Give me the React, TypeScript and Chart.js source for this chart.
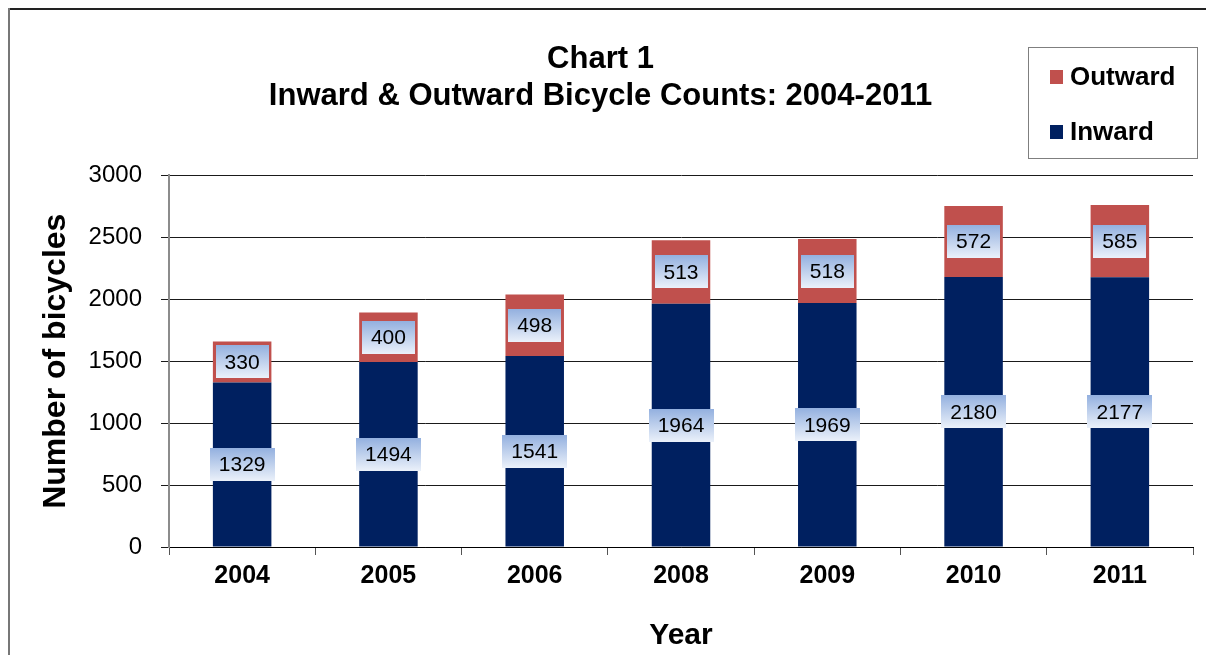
import React, { useEffect, useRef } from "react";
import { Chart, registerables } from "chart.js";

Chart.register(...registerables);

const categories = ["2004", "2005", "2006", "2008", "2009", "2010", "2011"];
const inward = [1329, 1494, 1541, 1964, 1969, 2180, 2177];
const outward = [330, 400, 498, 513, 518, 572, 585];
const yTicks = [0, 500, 1000, 1500, 2000, 2500, 3000];
const titleLines = ["Chart 1", "Inward & Outward Bicycle Counts: 2004-2011"];

const FONT = 'Arial, "Liberation Sans", sans-serif';
const W = 1206;
const H = 647;

const framePlugin = {
  id: "frame",
  beforeDraw(chart: any) {
    const { ctx } = chart;
    ctx.save();
    ctx.fillStyle = "#ffffff";
    ctx.fillRect(0, 0, chart.width, chart.height);
    ctx.lineWidth = 2;
    ctx.strokeStyle = "#222222";
    ctx.beginPath();
    ctx.moveTo(0, 1);
    ctx.lineTo(chart.width, 1);
    ctx.stroke();
    ctx.strokeStyle = "#777777";
    ctx.beginPath();
    ctx.moveTo(1, 0);
    ctx.lineTo(1, chart.height);
    ctx.stroke();
    ctx.restore();
  },
};

const labelPlugin = {
  id: "boxLabels",
  afterDatasetsDraw(chart: any) {
    const { ctx } = chart;
    ctx.save();
    ctx.font = `21px ${FONT}`;
    ctx.textAlign = "center";
    ctx.textBaseline = "middle";
    chart.data.datasets.forEach((ds: any, di: number) => {
      const meta = chart.getDatasetMeta(di);
      meta.data.forEach((el: any, i: number) => {
        const { x, y, base } = el.getProps(["x", "y", "base"], true);
        const cy = (y + base) / 2;
        const text = String(ds.data[i]);
        const tw = ctx.measureText(text).width;
        const bw = Math.round(tw + 18);
        const bh = 33;
        const bx = Math.round(x - bw / 2);
        const by = Math.round(cy - bh / 2);
        const g = ctx.createLinearGradient(0, by, 0, by + bh);
        g.addColorStop(0, "#93b0df");
        g.addColorStop(1, "#ebf1fa");
        ctx.fillStyle = g;
        ctx.fillRect(bx, by, bw, bh);
        ctx.fillStyle = "#000000";
        ctx.fillText(text, x, cy + 1);
      });
    });
    ctx.restore();
  },
};

const legendPlugin = {
  id: "boxLegend",
  afterDraw(chart: any) {
    const { ctx } = chart;
    ctx.save();
    ctx.strokeStyle = "#7f7f7f";
    ctx.lineWidth = 1;
    ctx.strokeRect(1020.5, 39.5, 169, 111);
    const items = chart.data.datasets.slice().reverse();
    ctx.font = `bold 26px ${FONT}`;
    ctx.textAlign = "left";
    ctx.textBaseline = "middle";
    items.forEach((ds: any, i: number) => {
      const cy = 69 + i * 55;
      ctx.fillStyle = ds.backgroundColor;
      ctx.fillRect(1042, cy - 7, 13, 14);
      ctx.fillStyle = "#000000";
      ctx.fillText(ds.label, 1062, cy + 1);
    });
    ctx.restore();
  },
};

export default function App() {
  const ref = useRef<HTMLCanvasElement>(null);
  useEffect(() => {
    if (!ref.current) return;
    const chart = new Chart(ref.current, {
      type: "bar",
      data: {
        labels: categories,
        datasets: [
          {
            label: "Inward",
            data: inward,
            backgroundColor: "#002060",
            barPercentage: 0.4,
            categoryPercentage: 1,
          },
          {
            label: "Outward",
            data: outward,
            backgroundColor: "#c0504d",
            barPercentage: 0.4,
            categoryPercentage: 1,
          },
        ],
      },
      options: {
        animation: false,
        responsive: false,
        layout: { padding: { left: 0, right: 21, top: 0, bottom: 0 } },
        plugins: {
          legend: { display: false },
          tooltip: { enabled: false },
          title: {
            display: true,
            text: titleLines,
            color: "#000000",
            font: { family: FONT, size: 31, weight: "bold", lineHeight: 1.2 },
            padding: { top: 33, bottom: 60 },
          },
        },
        scales: {
          x: {
            stacked: true,
            afterFit: (s: any) => {
              s.height = 108;
            },
            grid: {
              drawOnChartArea: false,
              drawTicks: true,
              tickLength: 8,
              offset: true,
              color: "#555555",
            },
            border: { display: true, color: "#000000", width: 1 },
            ticks: {
              color: "#000000",
              padding: 6,
              font: { family: FONT, size: 25, weight: "bold" },
            },
            title: {
              display: true,
              text: "Year",
              color: "#000000",
              font: { family: FONT, size: 30, weight: "bold", lineHeight: 1.2 },
              padding: { top: 0, bottom: 1 },
            },
          },
          y: {
            stacked: true,
            min: 0,
            max: 3000,
            afterFit: (s: any) => {
              s.width = 161;
            },
            afterBuildTicks: (s: any) => {
              s.ticks = yTicks.map((v) => ({ value: v }));
            },
            grid: {
              color: "#1a1a1a",
              lineWidth: 1,
              drawTicks: true,
              tickLength: 8,
            },
            border: { display: true, color: "#8c8c8c", width: 2 },
            ticks: {
              color: "#000000",
              padding: 19,
              font: { family: FONT, size: 24 },
              callback: (v: any) => String(v),
            },
            title: {
              display: true,
              text: "Number of bicycles",
              color: "#000000",
              font: { family: FONT, size: 32, weight: "bold", lineHeight: 1.2 },
              padding: { top: 29, bottom: 0 },
            },
          },
        },
      },
      plugins: [framePlugin, labelPlugin, legendPlugin],
    });
    return () => chart.destroy();
  }, []);
  return (
    <div style={{ width: W, height: H }}>
      <canvas ref={ref} width={W} height={H} style={{ display: "block", width: W, height: H }} />
    </div>
  );
}
